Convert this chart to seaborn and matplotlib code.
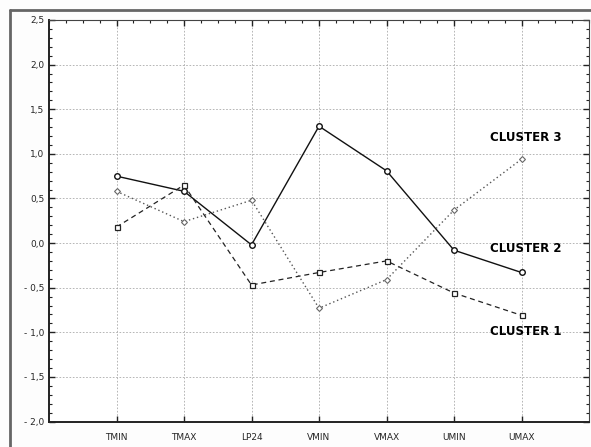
import numpy as np
import pandas as pd
import seaborn as sns
import matplotlib.pyplot as plt
from matplotlib.ticker import MultipleLocator, FuncFormatter
from matplotlib.lines import Line2D

variables = ["TMIN", "TMAX", "LP24", "VMIN", "VMAX", "UMIN", "UMAX"]
cluster1 = [0.18, 0.65, -0.47, -0.33, -0.20, -0.56, -0.81]
cluster2 = [0.75, 0.58, -0.02, 1.31, 0.81, -0.08, -0.33]
cluster3 = [0.58, 0.24, 0.48, -0.73, -0.41, 0.37, 0.94]

sns.set_theme(style="white")
plt.rcParams['font.family'] = ['DejaVu Sans']

fig = plt.figure(figsize=(5.91, 4.47), dpi=100)
fig.patch.set_facecolor("#fdfdfd")
ax = fig.add_axes([49 / 591, 1 - 421.5 / 447, 540 / 591, 401.5 / 447])
ax.set_facecolor("white")

pos = np.arange(len(variables))
df = pd.DataFrame({"pos": pos, "c1": cluster1, "c2": cluster2, "c3": cluster3})

# cluster 2: solid with circles
sns.lineplot(x="pos", y="c2", data=df, ax=ax, color="#111111", linewidth=1.0,
             marker="o", markersize=4, markerfacecolor="white",
             markeredgecolor="#111111", markeredgewidth=1.0)
# cluster 1: dashed with squares
sns.lineplot(x="pos", y="c1", data=df, ax=ax, color="#222222", linewidth=0.9,
             linestyle=(0, (4, 3)), marker="s", markersize=3.6,
             markerfacecolor="white", markeredgecolor="#222222", markeredgewidth=0.9)
# cluster 3: dotted with diamonds
sns.lineplot(x="pos", y="c3", data=df, ax=ax, color="#555555", linewidth=1.0,
             linestyle=(0, (1, 2)), marker="D", markersize=3,
             markerfacecolor="white", markeredgecolor="#666666", markeredgewidth=0.8)

ax.set_xlim(-1, 7)
ax.set_ylim(-2.0, 2.5)
ax.set_xticks(pos)
ax.set_xticklabels(variables, fontsize=6.5)
ax.yaxis.set_major_locator(MultipleLocator(0.5))
ax.yaxis.set_minor_locator(MultipleLocator(0.1))
ax.xaxis.set_minor_locator(MultipleLocator(0.25))
ax.yaxis.set_major_formatter(FuncFormatter(lambda v, p: ("%.1f" % v).replace(".", ",").replace("-", "- ")))
ax.tick_params(axis="y", labelsize=6.5)
ax.set_xlabel("")
ax.set_ylabel("")

ax.tick_params(which="both", direction="in", top=True, right=True, bottom=True, left=True,
               color="#222222")
ax.tick_params(which="major", length=4, width=1.0)
ax.tick_params(which="minor", length=2, width=0.8)
ax.tick_params(axis="x", which="minor", bottom=False)
ax.tick_params(axis="x", which="major", pad=8)

ax.grid(True, which="major", color="#aaaaaa", linestyle=(0, (2, 2)), linewidth=0.6)
ax.set_axisbelow(True)

for side in ["left", "bottom"]:
    ax.spines[side].set_color("#222222")
    ax.spines[side].set_linewidth(1.4)
for side in ["top", "right"]:
    ax.spines[side].set_color("#444444")
    ax.spines[side].set_linewidth(0.8)

ax.text(5.53, 1.18, "CLUSTER 3", fontsize=8.5, fontweight="bold", color="black",
        va="center", ha="left")
ax.text(5.53, -0.06, "CLUSTER 2", fontsize=8.5, fontweight="bold", color="black",
        va="center", ha="left")
ax.text(5.53, -0.99, "CLUSTER 1", fontsize=8.5, fontweight="bold", color="black",
        va="center", ha="left")

# outer gray frame of the original window
fig.add_artist(Line2D([10 / 591, 1.0], [1 - 10 / 447, 1 - 10 / 447],
                      color="#666666", linewidth=2, transform=fig.transFigure))
fig.add_artist(Line2D([10 / 591, 10 / 591], [0.0, 1 - 10 / 447],
                      color="#666666", linewidth=2, transform=fig.transFigure))

fig.savefig("out.png", dpi=100)
